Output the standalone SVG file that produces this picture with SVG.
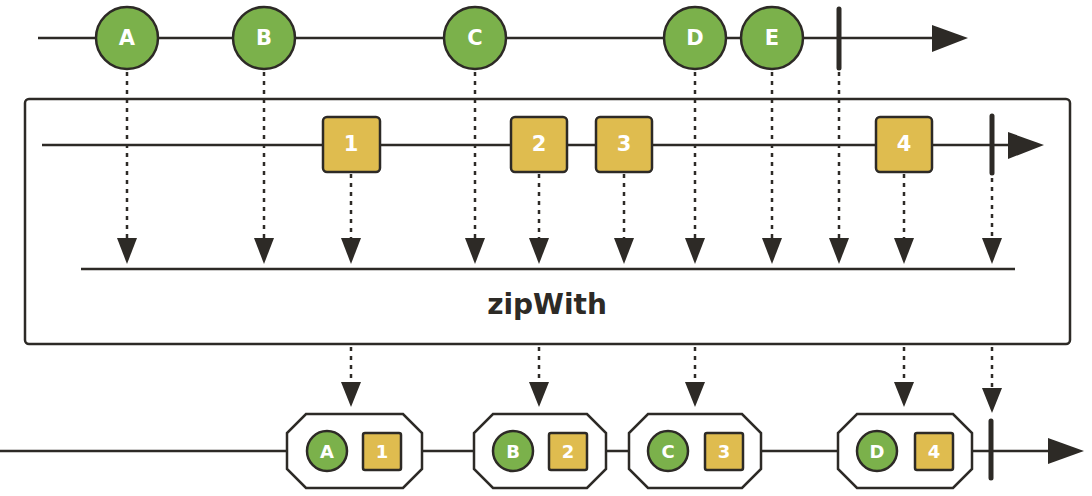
<svg xmlns="http://www.w3.org/2000/svg" width="1092" height="496" viewBox="0 0 1092 496">
<defs>
<style>
.ln{stroke:#2d2a26;stroke-width:2.5;fill:none}
.term{stroke:#2d2a26;stroke-width:5;stroke-linecap:round}
.dot{stroke:#2d2a26;stroke-width:2.5;stroke-dasharray:4 5;fill:none}
.ah{fill:#2d2a26}
.c{fill:#7bb14b;stroke:#2d2a26;stroke-width:2.5}
.s{fill:#dfbc4f;stroke:#2d2a26;stroke-width:2.5}
.oct{fill:#fff;stroke:#2d2a26;stroke-width:2.5}
.t{font-family:"DejaVu Sans",Verdana,sans-serif;font-weight:bold;fill:#fff;text-anchor:middle;dominant-baseline:central}
.big{font-size:21px}
.sm{font-size:18px}
.op{font-family:"DejaVu Sans",Verdana,sans-serif;font-weight:bold;fill:#2d2a26;font-size:28px;text-anchor:middle;dominant-baseline:central}
</style>
</defs>
<g id="operator-box">
<rect x="25" y="99" width="1045" height="245" rx="4" fill="#fff" stroke="#2d2a26" stroke-width="2.5"/>
<line class="ln" x1="81" y1="269" x2="1015" y2="269"/>
<text class="op" x="547" y="304">zipWith</text>
</g>
<g id="timelines">
<line class="ln" x1="38" y1="38" x2="935" y2="38"/>
<polygon class="ah" points="932,25 968,38 932,52"/>
<line class="term" x1="839" y1="9" x2="839" y2="68"/>
<line class="ln" x1="42" y1="145" x2="1010" y2="145"/>
<polygon class="ah" points="1008,132 1044,145 1008,159"/>
<line class="term" x1="992" y1="116" x2="992" y2="173"/>
<line class="ln" x1="0" y1="451" x2="1050" y2="451"/>
<polygon class="ah" points="1048,438 1084,451 1048,464"/>
<line class="term" x1="991" y1="421" x2="991" y2="478"/>
</g>
<g id="connectors">
<line class="dot" x1="127" y1="72" x2="127" y2="240"/><polygon class="ah" points="117,238 137,238 127,264"/>
<line class="dot" x1="264" y1="72" x2="264" y2="240"/><polygon class="ah" points="254,238 274,238 264,264"/>
<line class="dot" x1="351" y1="174" x2="351" y2="240"/><polygon class="ah" points="341,238 361,238 351,264"/>
<line class="dot" x1="475" y1="72" x2="475" y2="240"/><polygon class="ah" points="465,238 485,238 475,264"/>
<line class="dot" x1="539" y1="174" x2="539" y2="240"/><polygon class="ah" points="529,238 549,238 539,264"/>
<line class="dot" x1="624" y1="174" x2="624" y2="240"/><polygon class="ah" points="614,238 634,238 624,264"/>
<line class="dot" x1="695" y1="72" x2="695" y2="240"/><polygon class="ah" points="685,238 705,238 695,264"/>
<line class="dot" x1="772" y1="72" x2="772" y2="240"/><polygon class="ah" points="762,238 782,238 772,264"/>
<line class="dot" x1="839" y1="72" x2="839" y2="240"/><polygon class="ah" points="829,238 849,238 839,264"/>
<line class="dot" x1="904" y1="174" x2="904" y2="240"/><polygon class="ah" points="894,238 914,238 904,264"/>
<line class="dot" x1="992" y1="178" x2="992" y2="240"/><polygon class="ah" points="982,238 1002,238 992,264"/>
<line class="dot" x1="351" y1="347" x2="351" y2="384"/><polygon class="ah" points="341,382 361,382 351,407"/>
<line class="dot" x1="539" y1="347" x2="539" y2="384"/><polygon class="ah" points="529,382 549,382 539,407"/>
<line class="dot" x1="695" y1="347" x2="695" y2="384"/><polygon class="ah" points="685,382 705,382 695,407"/>
<line class="dot" x1="904" y1="347" x2="904" y2="384"/><polygon class="ah" points="894,382 914,382 904,407"/>
<line class="dot" x1="992" y1="347" x2="992" y2="390"/><polygon class="ah" points="982,388 1002,388 992,413"/>
</g>
<g id="node-A"><circle class="c" cx="127" cy="38" r="31"/><text class="t big" x="127" y="38">A</text></g>
<g id="node-B"><circle class="c" cx="264" cy="38" r="31"/><text class="t big" x="264" y="38">B</text></g>
<g id="node-C"><circle class="c" cx="475" cy="38" r="31"/><text class="t big" x="475" y="38">C</text></g>
<g id="node-D"><circle class="c" cx="695" cy="38" r="31"/><text class="t big" x="695" y="38">D</text></g>
<g id="node-E"><circle class="c" cx="772" cy="38" r="31"/><text class="t big" x="772" y="38">E</text></g>
<g id="node-1"><rect class="s" x="323" y="117" width="57" height="55" rx="4"/><text class="t big" x="351" y="144">1</text></g>
<g id="node-2"><rect class="s" x="511" y="117" width="56" height="55" rx="4"/><text class="t big" x="539" y="144">2</text></g>
<g id="node-3"><rect class="s" x="596" y="117" width="56" height="55" rx="4"/><text class="t big" x="624" y="144">3</text></g>
<g id="node-4"><rect class="s" x="876" y="117" width="56" height="55" rx="4"/><text class="t big" x="904" y="144">4</text></g>
<g id="out-A1">
<polygon class="oct" points="306,414 403,414 422,433 422,469 403,488 306,488 287,469 287,433"/>
<circle class="c" cx="327" cy="451" r="20"/><text class="t sm" x="327" y="451">A</text>
<rect class="s" x="363" y="433" width="38" height="37" rx="2"/><text class="t sm" x="382" y="451">1</text>
</g>
<g id="out-B2">
<polygon class="oct" points="493,414 587,414 606,433 606,469 587,488 493,488 474,469 474,433"/>
<circle class="c" cx="513" cy="451" r="20"/><text class="t sm" x="513" y="451">B</text>
<rect class="s" x="549" y="433" width="38" height="37" rx="2"/><text class="t sm" x="568" y="451">2</text>
</g>
<g id="out-C3">
<polygon class="oct" points="648,414 742,414 761,433 761,469 742,488 648,488 629,469 629,433"/>
<circle class="c" cx="668" cy="451" r="20"/><text class="t sm" x="668" y="451">C</text>
<rect class="s" x="705" y="433" width="38" height="37" rx="2"/><text class="t sm" x="724" y="451">3</text>
</g>
<g id="out-D4">
<polygon class="oct" points="857,414 953,414 972,433 972,469 953,488 857,488 838,469 838,433"/>
<circle class="c" cx="877" cy="451" r="20"/><text class="t sm" x="877" y="451">D</text>
<rect class="s" x="915" y="433" width="38" height="37" rx="2"/><text class="t sm" x="934" y="451">4</text>
</g>
</svg>
